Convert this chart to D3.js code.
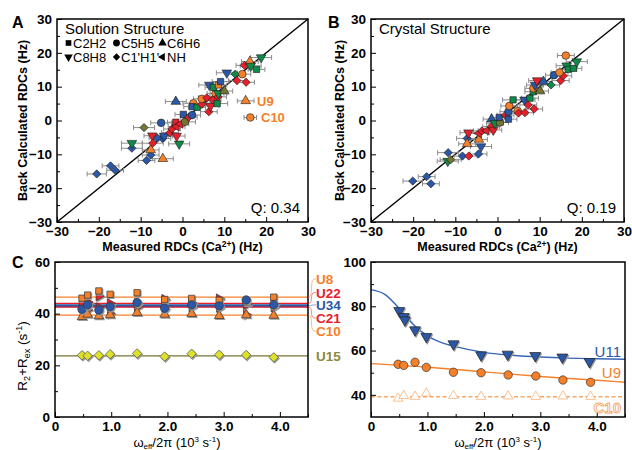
<!DOCTYPE html>
<html>
<head>
<meta charset="utf-8">
<script src="https://cdn.jsdelivr.net/npm/d3@7"></script>
<style>
body { margin: 0; background: #fff; }
text { font-family: "Liberation Sans", Arial, Helvetica, sans-serif; }
</style>
</head>
<body>
<svg id="fig" width="632" height="450"></svg>
<script>
// ---- data ----
// RDC panels: [measured, back calculated, error, bond type, residue group]
// bond type: s C2H2, c C5H5, t C6H6, v C8H8, d C1'H1', l NH
var solution = [
  [-20.5,-15.8,2.3,"d","b"], [-17.2,-13.4,2.0,"d","b"], [-16.1,-14.7,2.0,"d","b"],
  [-12.1,-8.2,2.5,"d","b"], [-12.1,-6.7,2.5,"v","g"], [-9.2,-2.1,2.5,"d","k"],
  [-8.6,-11.8,2.0,"d","b"], [-7.6,-10.2,2.0,"d","b"], [-7.6,-8.7,2.0,"t","o"],
  [-7.2,-4.5,2.0,"v","r"], [-7.1,-6.7,2.5,"d","r"], [-4.7,-11.3,2.5,"t","o"],
  [-5.1,-0.7,2.5,"c","b"], [-4.8,-5.3,2.0,"d","b"], [-4.4,-4.6,2.0,"v","b"],
  [-6.0,-5.2,2.0,"d","b"], [-0.8,-6.9,2.5,"v","g"], [-1.6,5.6,2.5,"t","b"],
  [-3.0,-3.6,2.0,"d","r"], [-2.5,-2.5,2.0,"d","r"], [-1.6,-0.5,2.0,"s","r"],
  [-1.4,-1.8,2.0,"l","r"], [-1.4,-4.6,2.0,"v","r"], [-0.5,-1.0,2.0,"l","r"],
  [0.6,-0.4,2.5,"c","k"], [0.2,1.8,2.0,"s","b"], [1.5,1.0,2.0,"d","r"],
  [2.3,1.6,2.0,"c","b"], [2.6,5.1,2.5,"c","o"], [2.3,4.1,2.0,"s","b"],
  [3.5,3.9,2.0,"s","g"], [4.6,4.8,2.0,"d","r"], [4.6,6.4,2.0,"c","o"],
  [5.8,6.7,2.0,"d","r"], [6.3,2.6,2.0,"d","r"], [6.7,4.3,2.0,"v","r"],
  [7.2,6.1,2.0,"d","r"], [8.3,5.0,2.5,"s","g"], [7.9,8.0,2.0,"c","o"],
  [8.5,7.0,2.0,"d","r"], [6.4,10.5,2.5,"v","b"], [7.4,9.8,2.0,"s","g"],
  [8.6,10.5,2.0,"s","o"], [9.1,11.5,2.0,"s","b"], [8.6,8.0,2.0,"v","g"],
  [10.0,8.7,2.0,"t","k"], [10.6,14.1,2.5,"v","b"], [12.6,13.7,2.0,"d","g"],
  [13.0,11.8,2.0,"d","r"], [14.3,13.7,2.0,"c","o"], [15.2,11.3,2.0,"d","r"],
  [14.8,16.3,2.0,"d","r"], [16.1,17.4,2.0,"t","o"], [16.3,16.1,2.5,"v","g"],
  [17.7,15.1,2.0,"s","g"], [18.8,18.6,2.5,"v","g"],
  [15.1,5.8,2.0,"t","o"], [16.2,0.9,1.5,"c","o"]
];
var crystal = [
  [-20.1,-17.9,2.3,"d","b"], [-16.8,-16.6,2.0,"d","b"], [-15.8,-18.7,2.0,"d","b"],
  [-11.7,-9.5,2.5,"d","b"], [-11.8,-12.0,2.5,"v","g"], [-11.1,-11.6,2.5,"d","k"],
  [-8.3,-10.5,2.0,"d","b"], [-6.8,-10.5,2.0,"d","r"], [-4.5,-9.9,2.0,"d","b"],
  [-3.9,-7.7,2.5,"v","b"], [-7.2,-5.3,2.5,"d","b"], [-7.2,-6.9,2.0,"t","o"],
  [-4.4,-5.6,2.0,"t","o"], [-6.9,-3.6,2.0,"v","r"], [-4.4,-3.8,2.0,"l","r"],
  [-3.7,-3.1,2.0,"d","r"], [-2.6,-3.0,2.0,"l","r"], [-1.5,-1.8,2.0,"d","r"],
  [-1.0,-2.8,2.0,"v","r"], [-1.4,0.4,2.0,"t","b"], [-0.6,-0.8,2.0,"v","g"],
  [0.6,-0.6,2.0,"c","k"], [0.4,0.9,2.0,"s","b"], [1.9,1.6,2.0,"d","r"],
  [2.6,0.4,2.0,"s","b"], [2.6,2.6,2.0,"c","b"], [2.8,4.3,2.0,"c","o"],
  [4.8,2.8,2.0,"c","o"], [5.0,2.2,2.0,"d","r"], [6.5,2.3,2.0,"d","r"],
  [3.7,6.1,2.5,"s","g"], [6.4,6.1,2.5,"v","b"], [7.3,4.6,2.0,"d","r"],
  [8.7,3.4,2.0,"d","r"], [7.7,6.6,2.0,"s","g"], [8.5,8.5,2.0,"s","g"],
  [8.5,9.5,2.0,"c","o"], [8.9,10.5,2.0,"v","b"], [9.4,11.8,2.0,"v","r"],
  [10.1,8.7,2.0,"t","k"], [10.9,11.5,2.0,"t","b"], [12.7,10.5,2.0,"d","g"],
  [13.4,13.4,2.0,"c","b"], [15.0,11.8,2.0,"d","r"], [15.6,13.2,2.0,"d","r"],
  [14.7,14.2,2.0,"c","o"], [16.4,16.2,2.5,"v","g"], [16.8,15.1,2.0,"s","g"],
  [18.0,15.4,2.0,"s","g"], [18.8,17.4,2.5,"v","g"], [16.2,19.2,2.0,"c","o"]
];
var rdcTicks = [-30, -20, -10, 0, 10, 20, 30];
var rdcMinor = [-25, -15, -5, 5, 15, 25];
var diag = [-30, 30];
var legendTypes = ["s", "c", "t", "v", "d", "l"];
var legendNames = ["C2H2", "C5H5", "C6H6", "C8H8", "C1'H1'", "NH"];

// relaxation dispersion, left: flat profiles
var omega = [0.48, 0.58, 0.78, 0.98, 1.46, 1.95, 2.43, 2.92, 3.40, 3.89];
var u8  = [46.0, 47.2, 48.8, 47.5, 48.1, 45.5, 45.9, 45.2, 44.5, 46.4];
var u22 = [43.4, 44.5, 46.8, 44.0, 44.0, 45.6, 44.2, 45.8, 43.5, 43.8];
var c21 = [42.2, 41.5, 42.5, 40.1, 42.5, 42.0, 42.5, 42.3, 39.7, 42.5];
var u34 = [41.7, 43.4, 41.4, 42.7, 44.3, 42.1, 43.4, 43.0, 45.3, 43.4];
var c10 = [38.8, 39.7, 39.1, 39.5, 40.4, 39.7, 40.0, 39.2, 39.5, 39.3];
var u15 = [23.9, 23.7, 23.9, 24.3, 24.6, 23.4, 24.5, 24.1, 24.0, 23.1];
var flatNames = ["U8", "U22", "U34", "C21", "C10", "U15"];
var flatLevels = [46.4, 44.0, 43.1, 42.5, 39.4, 23.7];

// relaxation dispersion, right
var omegaU11 = [0.50, 0.58, 0.60, 0.78, 0.98, 1.46, 1.95, 2.42, 2.91, 3.39, 3.87];
var u11 = [78.0, 75.3, 73.8, 69.3, 66.3, 63.0, 58.0, 58.3, 57.7, 57.0, 55.0];
var u9 = [53.8, 53.3, 54.7, 52.4, 50.2, 50.0, 49.0, 48.5, 46.7, 45.7];
var c10b = [38.4, 39.6, 39.2, 40.7, 39.6, 39.2, 39.4, 39.2, 39.4, 39.2];
var u11FitX = [0, 0.25, 0.5, 0.75, 1.0, 1.25, 1.5, 2.0, 2.5, 3.0, 3.5, 4.0, 4.5];
var u11FitY = [87.5, 85.3, 79.0, 71.8, 66.6, 63.6, 61.8, 59.2, 57.9, 57.1, 56.6, 56.3, 56.1];
var u9FitX = [0, 1, 2, 3, 4, 4.5];
var u9FitY = [54.1, 52.5, 50.4, 48.3, 46.6, 45.7];
var c10Level = 39.2;

// ---- styles ----
var BLUE = "#2b58a6", RED = "#e6202a", GREEN = "#108a48", ORANGE = "#f5802a",
    OLIVE = "#737534", YELLOW = "#dde128", LIGHTOR = "#f6a868", OLIVETXT = "#8b8a3c";
var groupColor = { b: BLUE, r: RED, g: GREEN, o: ORANGE, k: OLIVE };
var nameColor = { U8: ORANGE, U22: RED, U34: BLUE, C21: RED, C10: ORANGE, U15: OLIVETXT };
var symType = { s: d3.symbolSquare, c: d3.symbolCircle, t: d3.symbolTriangle, v: d3.symbolTriangle,
                d: d3.symbolSquare, l: d3.symbolTriangle, r: d3.symbolTriangle };
var symRot = { s: 0, c: 0, t: 0, v: 180, d: 45, l: -90, r: 90 };
var symSize = { s: 40, c: 46, t: 40, v: 40, d: 34, l: 34, r: 36 };

var svg = d3.select("#fig");

function sym(t, k) { return d3.symbol(symType[t], symSize[t] * (k || 1))(); }
function at(t, x, y) { return "translate(" + x + "," + y + ") rotate(" + symRot[t] + ")"; }

function axes(x, y, xMajor, xMinor, yMajor, yMinor, xFmt) {
  var g = svg.append("g");
  var x0 = x.range()[0], y0 = y.range()[0];
  g.append("g").attr("transform", "translate(0," + y0 + ")")
    .call(d3.axisBottom(x).tickValues(xMinor).tickSize(-3).tickFormat(""));
  g.append("g").attr("transform", "translate(0," + y0 + ")")
    .call(d3.axisBottom(x).tickValues(xMajor).tickSize(-5).tickPadding(4).tickFormat(xFmt || d3.format("d")));
  g.append("g").attr("transform", "translate(" + x0 + ",0)")
    .call(d3.axisLeft(y).tickValues(yMinor).tickSize(-3).tickFormat(""));
  g.append("g").attr("transform", "translate(" + x0 + ",0)")
    .call(d3.axisLeft(y).tickValues(yMajor).tickSize(-5).tickPadding(5).tickFormat(d3.format("d")));
  g.selectAll(".domain").remove();
  g.selectAll(".tick line").attr("stroke", "#000").attr("stroke-width", 1);
  g.selectAll(".tick text").attr("font-size", 13.5).attr("font-weight", "bold")
    .attr("font-family", "Liberation Sans, Arial, sans-serif").attr("fill", "#000");
  svg.append("rect")
    .attr("x", x.range()[0]).attr("y", y.range()[1])
    .attr("width", x.range()[1] - x.range()[0]).attr("height", y.range()[0] - y.range()[1])
    .attr("fill", "none").attr("stroke", "#000").attr("stroke-width", 1.5);
}

function rdcPanel(data, x, y, title, q, labelX) {
  var g = svg.append("g");
  g.append("line")
    .attr("x1", x(diag[0])).attr("y1", y(diag[0]))
    .attr("x2", x(diag[1])).attr("y2", y(diag[1]))
    .attr("stroke", "#000").attr("stroke-width", 1.4);
  var eb = g.append("g").attr("stroke", "#8c8c8c").attr("stroke-width", 1);
  data.forEach(function(d) {
    var cy = y(d[1]), xa = x(d[0] - d[2]), xb = x(d[0] + d[2]);
    eb.append("line").attr("x1", xa).attr("x2", xb).attr("y1", cy).attr("y2", cy);
    eb.append("line").attr("x1", xa).attr("x2", xa).attr("y1", cy - 2.5).attr("y2", cy + 2.5);
    eb.append("line").attr("x1", xb).attr("x2", xb).attr("y1", cy - 2.5).attr("y2", cy + 2.5);
  });
  g.selectAll("path.pt").data(data).enter().append("path")
    .attr("class", "pt")
    .attr("d", function(d) { return sym(d[3]); })
    .attr("transform", function(d) { return at(d[3], x(d[0]), y(d[1])); })
    .attr("fill", function(d) { return groupColor[d[4]]; })
    .attr("stroke", "#1a1a1a").attr("stroke-width", 0.6);

  axes(x, y, rdcTicks, rdcMinor, rdcTicks, rdcMinor);

  svg.append("text").attr("x", x.range()[0] + 8).attr("y", 34)
    .attr("font-size", 15).text(title);
  svg.append("text").attr("x", x.range()[1] - 8).attr("y", 213)
    .attr("text-anchor", "end").attr("font-size", 15).text("Q: " + q);

  var xl = svg.append("text").attr("x", (x.range()[0] + x.range()[1]) / 2).attr("y", 251)
    .attr("text-anchor", "middle").attr("font-size", 12.5).attr("font-weight", "bold");
  xl.append("tspan").text("Measured RDCs (Ca");
  xl.append("tspan").attr("font-size", 8.5).attr("dy", -4).text("2+");
  xl.append("tspan").attr("dy", 4).text(") (Hz)");

  svg.append("text")
    .attr("transform", "translate(" + labelX + "," + (y.range()[0] + y.range()[1]) / 2 + ") rotate(-90)")
    .attr("text-anchor", "middle").attr("dy", "0.35em")
    .attr("font-size", 12.5).attr("font-weight", "bold")
    .text("Back Calculated RDCs (Hz)");
}

// ---- panels A and B ----
var xA = d3.scaleLinear().domain([-30, 30]).range([57, 308]);
var yA = d3.scaleLinear().domain([-30, 30]).range([222, 19]);
var xB = d3.scaleLinear().domain([-30, 30]).range([371, 624]);
var yB = d3.scaleLinear().domain([-30, 30]).range([222, 19]);

rdcPanel(solution, xA, yA, "Solution Structure", "0.34", 23);
rdcPanel(crystal, xB, yB, "Crystal Structure", "0.19", 340);

// legend in A
var colX = [65, 113, 159], rowY = [43, 57];
legendTypes.forEach(function(t, i) {
  var cx = colX[i % 3], cy = rowY[Math.floor(i / 3)];
  svg.append("path").attr("d", sym(t, 0.8)).attr("transform", at(t, cx + 3.5, cy))
    .attr("fill", "#000");
  svg.append("text").attr("x", cx + 8).attr("y", cy + 4.5).attr("font-size", 13)
    .text(legendNames[i]);
});
svg.append("text").attr("x", 257).attr("y", 106).attr("font-size", 13)
  .attr("font-weight", "bold").attr("fill", ORANGE).text("U9");
svg.append("text").attr("x", 261).attr("y", 122).attr("font-size", 13)
  .attr("font-weight", "bold").attr("fill", ORANGE).text("C10");

// panel letters
[["A", 12, 28], ["B", 328, 28], ["C", 12, 268]].forEach(function(p) {
  svg.append("text").attr("x", p[1]).attr("y", p[2]).attr("font-size", 16)
    .attr("font-weight", "bold").text(p[0]);
});

// ---- panel C ----
var xC = d3.scaleLinear().domain([0, 4.5]).range([55, 308]);
var yC = d3.scaleLinear().domain([0, 60]).range([417, 262]);
var xD = d3.scaleLinear().domain([0, 4.5]).range([371, 625]);
var yD = d3.scaleLinear().domain([30, 100]).range([417, 262]);
var omTicks = [0, 1, 2, 3, 4], omMinor = [0.5, 1.5, 2.5, 3.5, 4.5];
var omFmt = function(d) { return d === 0 ? "0" : d3.format(".1f")(d); };

function points(g, xs, ys, x, y, t, fill, stroke, shadow, k) {
  xs.forEach(function(v, i) {
    if (shadow) {
      g.append("path").attr("d", sym(t, (k || 1) * 1.25))
        .attr("transform", at(t, x(v) + 1, y(ys[i]) + 1.2)).attr("fill", "#9a9a9a");
    }
    g.append("path").attr("d", sym(t, k)).attr("transform", at(t, x(v), y(ys[i])))
      .attr("fill", fill).attr("stroke", stroke).attr("stroke-width", 0.7);
  });
}

// left: flat lines
var gc = svg.append("g");
flatNames.forEach(function(n, i) {
  gc.append("line").attr("x1", xC(0)).attr("x2", xC(4.5))
    .attr("y1", yC(flatLevels[i])).attr("y2", yC(flatLevels[i]))
    .attr("stroke", n === "U15" ? OLIVE : nameColor[n])
    .attr("stroke-width", n === "U34" ? 3 : 1.2);
});
points(gc, omega, u15, xC, yC, "d", YELLOW, "#555", true, 1.3);
points(gc, omega, c21, xC, yC, "r", RED, "#333", true, 1.0);
points(gc, omega, u22, xC, yC, "r", RED, "#333", true, 1.1);
points(gc, omega, c10, xC, yC, "t", ORANGE, "#333", true, 1.0);
points(gc, omega, u8, xC, yC, "s", ORANGE, "#333", true, 1.0);
points(gc, omega, u34, xC, yC, "c", BLUE, "#333", true, 1.2);
axes(xC, yC, omTicks, omMinor, [0, 20, 40, 60], [10, 30, 50], omFmt);

// labels with braces
var labelY = [279, 292.5, 305, 318, 331, 356];
var brace = d3.line().curve(d3.curveBasis);
flatNames.forEach(function(n, i) {
  var ly = yC(flatLevels[i]);
  if (n !== "U15") {
    svg.append("path")
      .attr("d", brace([[308, ly], [311, ly], [311.5, (ly + labelY[i]) / 2], [312, labelY[i]], [316, labelY[i]]]))
      .attr("fill", "none").attr("stroke", nameColor[n]).attr("stroke-opacity", 0.55).attr("stroke-width", 1);
  }
  svg.append("text").attr("x", 316).attr("y", labelY[i] + 5)
    .attr("font-size", 13.5).attr("font-weight", "bold").attr("fill", nameColor[n]).text(n);
});

// right: dispersion
var gd = svg.append("g");
var fitLine = d3.line().curve(d3.curveMonotoneX)
  .x(function(d) { return xD(d[0]); }).y(function(d) { return yD(d[1]); });
gd.append("line").attr("x1", xD(0)).attr("x2", xD(4.5)).attr("y1", yD(c10Level)).attr("y2", yD(c10Level))
  .attr("stroke", LIGHTOR).attr("stroke-width", 1.5).attr("stroke-dasharray", "4,2.5");
gd.append("path").datum(u9FitX.map(function(v, i) { return [v, u9FitY[i]]; }))
  .attr("d", fitLine).attr("fill", "none").attr("stroke", ORANGE).attr("stroke-width", 1.4);
gd.append("path").datum(u11FitX.map(function(v, i) { return [v, u11FitY[i]]; }))
  .attr("d", fitLine).attr("fill", "none").attr("stroke", "#3865b5").attr("stroke-width", 1.4);
points(gd, omega, c10b, xD, yD, "t", "#fff", LIGHTOR, false, 1.0);
points(gd, omega, u9, xD, yD, "c", ORANGE, "#333", false, 1.2);
points(gd, omegaU11, u11, xD, yD, "v", BLUE, "#222", true, 1.3);
axes(xD, yD, omTicks, omMinor, [40, 60, 80, 100], [50, 70, 90], omFmt);

svg.append("text").attr("x", 621).attr("y", 357).attr("text-anchor", "end")
  .attr("font-size", 15).attr("fill", BLUE).text("U11");
svg.append("text").attr("x", 621).attr("y", 378).attr("text-anchor", "end")
  .attr("font-size", 15).attr("fill", ORANGE).text("U9");
svg.append("text").attr("x", 621).attr("y", 413).attr("text-anchor", "end")
  .attr("font-size", 15).attr("font-weight", "bold").attr("fill", "#fff")
  .attr("stroke", LIGHTOR).attr("stroke-width", 0.9).text("C10");

// axis titles for C
function omegaLabel(cx) {
  var t = svg.append("text").attr("x", cx).attr("y", 447).attr("text-anchor", "middle").attr("font-size", 13);
  t.append("tspan").text("\u03c9");
  t.append("tspan").attr("font-size", 8).attr("dy", 2).text("eff");
  t.append("tspan").attr("dy", -2).text("/2\u03c0 (10");
  t.append("tspan").attr("font-size", 8).attr("dy", -5).text("3");
  t.append("tspan").attr("dy", 5).text(" s");
  t.append("tspan").attr("font-size", 8).attr("dy", -5).text("-1");
  t.append("tspan").attr("dy", 5).text(")");
}
omegaLabel(177);
omegaLabel(498);

var yl = svg.append("text").attr("transform", "translate(27,356) rotate(-90)")
  .attr("text-anchor", "middle").attr("font-size", 13.5);
yl.append("tspan").text("R");
yl.append("tspan").attr("font-size", 9).attr("dy", 3).text("2");
yl.append("tspan").attr("dy", -3).text("+R");
yl.append("tspan").attr("font-size", 9).attr("dy", 3).text("ex");
yl.append("tspan").attr("dy", -3).text(" (s");
yl.append("tspan").attr("font-size", 9).attr("dy", -5).text("-1");
yl.append("tspan").attr("dy", 5).text(")");
</script>
</body>
</html>
